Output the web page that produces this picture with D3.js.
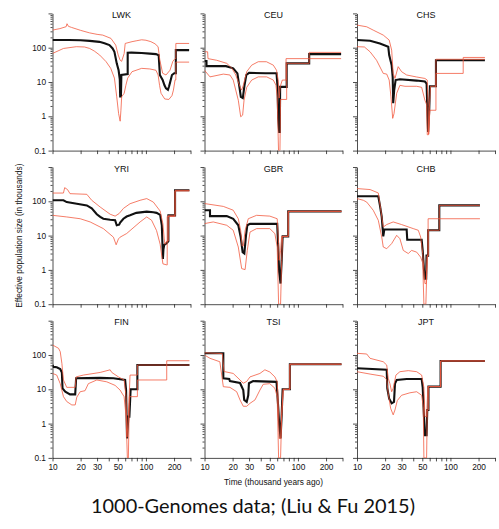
<!DOCTYPE html>
<html>
<head>
<meta charset="utf-8">
<script src="https://cdn.jsdelivr.net/npm/d3@7"></script>
<style>
  body { margin: 0; background: #fff; }
  svg { display: block; }
  .tick text, .lbl { font-family: "Liberation Sans", Arial, Helvetica, sans-serif; fill: #111; }
</style>
</head>
<body>
<svg id="chart" width="499" height="529"></svg>
<script>
// Stairway-plot estimates of effective population size (thousands) against time (thousand years ago).
// Each series is a list of [time, Ne] points; lower/upper are the 95% bounds.
const populations = ["LWK", "CEU", "CHS", "YRI", "GBR", "CHB", "FIN", "TSI", "JPT"];

const lwkMedian = [[10,168],[15,168],[20,165],[25,158],[31.8,148],[36,135],[40.7,119],[44,95],[46,76],[48.7,35],[51,22],[52.5,12],[53,3.8],[54,3.8],[54.6,16],[63.8,17],[63.8,71],[70,72],[90,70],[110,67],[128,65],[137,60],[141,16],[151,11.5],[158,8],[164,6.5],[172,5.9],[177,7.5],[181,9.5],[190,16],[201,18],[209,18],[209,85],[290,85]];
const lwkUpper = [[10,326],[12,360],[14,410],[14.3,500],[14.8,420],[16,390],[20,320],[24.9,271],[30,245],[34.5,233],[42.2,187],[47.5,119],[50.5,61],[53,43],[55,40],[58.5,68],[60,133],[71,150],[80,160],[90,170],[100,165],[113,150],[125,130],[135,107],[141,43],[151,18],[164,16],[181,22],[194,40],[205,48],[209,48],[209,133],[290,133]];
const lwkLower = [[10,68],[13.1,95],[18,107],[22,105],[25,95],[28,80],[32,61],[37.5,39],[42,25],[46,13],[48.7,3.7],[51,1.2],[53,0.72],[54,1.5],[55,3.7],[58.5,4.7],[61,8],[63.8,13],[71,20],[90,25],[110,24],[128,22],[135,16],[140,8],[145,4.7],[159,3.2],[176,3.1],[190,4],[197,5.8],[205,11.5],[209,11.5],[209,38],[290,38]];

const ceuMedian = [[10,41],[10.5,41],[10.5,29],[17,29],[20.3,25],[22.5,17.8],[23.5,8],[24.5,3.7],[25.7,3.4],[26.8,8],[28,16],[30,18.5],[45,18],[59,18],[60.5,7.2],[61.5,0.9],[63,0.35],[64,0.35],[64.5,7.2],[75.8,7.2],[75.8,35],[132,35],[132,65],[290,65]];
const ceuUpper = [[10,76],[10.8,76],[10.9,48],[13.5,43],[17.3,35],[19.7,25],[21.6,16],[23,10],[24.4,6.5],[25,5.8],[26,8],[28.3,20],[32,31],[37.6,39],[46,39],[54.5,31],[59,22],[61.5,11.4],[63,3.4],[64.5,7.2],[68,11.4],[74.6,11.4],[74.6,48],[132,48],[132,73],[290,73]];
const ceuLower = [[10,22],[11.45,14.1],[15.9,17],[18.7,16],[20.3,11.4],[23,2.95],[24.4,0.97],[25.6,1.08],[26.5,2.95],[28.3,7],[32,11.4],[37.6,14.1],[46.3,14.1],[54.5,11.4],[58.2,8.1],[60,3.7],[62,0.1],[64.2,0.1],[65.2,3.1],[75.8,3.1],[75.8,35],[132,35],[132,48],[290,48]];

const chsMedian = [[10,167],[13.8,160],[17.6,133],[21.6,107],[22.1,61],[23.5,31],[24.1,14],[24.4,2.4],[25,5.8],[25.9,11.4],[28.8,12],[43.5,11],[53.3,10.3],[55.6,9],[56.5,1.9],[57.7,0.35],[59.3,1.5],[60.3,7.5],[70,7.5],[70,43],[234,43]];
const chsUpper = [[10,456],[12.7,407],[14.9,326],[19.1,233],[22.1,167],[23.5,85],[24.4,17.8],[25.5,12.7],[27.6,28],[30,20],[34,16],[43.5,14],[53.3,12.7],[56.5,11.4],[57.7,1.9],[58.6,0.3],[59.3,1.5],[61.2,7.5],[70,7.5],[70,46],[234,46]];
const chsLower = [[10,107],[12,105],[13.8,76],[16.2,43],[19.1,17.8],[20.8,17],[22.1,11.4],[23.1,3.7],[24.1,0.87],[24.9,1.2],[26.6,4.7],[28.8,8],[32.6,7.5],[43.5,7.5],[49.2,7],[53.3,2.95],[55.6,2.2],[56.5,0.29],[58.2,0.29],[60.3,1.5],[70,1.5],[70,17.8],[137,17.8],[137,52],[234,52]];

const yriMedian = [[10,107],[13.1,107],[14.2,95],[18.2,85],[23.3,76],[26.3,62],[29.8,42],[32.4,35],[35,31],[41.4,29],[46.8,28],[48.7,20],[51.7,20.8],[53,24],[57.4,31],[62.2,36],[67.6,39],[79,46],[102,50],[120,48],[130,46],[142,40],[148,20],[152,2.1],[154,4],[157,5.4],[167,6],[174,6.9],[174,39],[205,39],[205,209],[292,209]];
const yriUpper = [[10,174],[13.1,174],[13.5,250],[14.5,219],[15.4,167],[23.3,160],[26.3,107],[32.4,68],[41.4,42],[46.8,37],[51.7,44],[57.4,62],[67.6,85],[86.6,107],[102,120],[120,95],[142,52],[152,22],[157,8],[160,5.6],[167,6.9],[174,6.9],[174,39],[205,39],[205,209],[292,209]];
const yriLower = [[10,39],[14.2,35],[19.8,31],[25.3,25],[35,16],[44.9,9],[48,5.4],[50.8,8],[52.9,9],[62.2,11.5],[86.6,25],[102,35],[115,28],[130,14],[142,5.6],[152,1.5],[167,1.4],[169,1.4],[169,36],[205,36],[205,200],[292,200]];

const gbrMedian = [[10,55],[11.45,55],[11.45,37],[17.3,37],[20.3,31],[23,20],[24.4,9.1],[25.6,3.3],[26.7,3.0],[27.8,10],[28.7,20],[30.7,22],[60,22],[61.5,4.6],[63,0.87],[65.2,0.4],[67,1.9],[68.6,9.5],[78.7,9.5],[78.7,51],[293,51]];
const gbrUpper = [[10,86],[15.9,71],[20.3,55],[23,31],[24.4,14],[25.3,5],[26,5],[27.2,14],[29.4,31],[36.1,39],[50,37],[60,31],[62.1,5.8],[63,1.9],[65.2,3.7],[67,9.5],[78.7,9.5],[78.7,51],[293,51]];
const gbrLower = [[10,22.4],[12.4,25],[17.3,20],[20.3,14.3],[23,4.65],[25,1.09],[27.2,1.02],[28.7,3.7],[30.7,12.7],[36.1,16],[50,16],[56.7,11.4],[60,4.65],[62.1,0.1],[65.2,0.1],[67,1.9],[68.6,9.5],[78.7,9.5],[78.7,51],[293,51]];

const chbMedian = [[10,140],[16.9,140],[17.6,76],[18.4,35],[19.1,9.5],[19.6,15],[34,15],[34.5,7.6],[49.2,7.6],[50.5,3.7],[52,1.1],[53,0.55],[55,0.55],[55.5,2.6],[57.7,2.6],[57.7,14.3],[76,14.3],[76,76],[207,76]];
const chbUpper = [[10,235],[13.8,220],[16.9,175],[17.9,61],[19.1,17.8],[20.8,21],[24.4,25],[30,21],[40,16],[45.3,14.3],[48,9.1],[50.5,3.0],[52,0.97],[53.3,0.4],[55,0.4],[56.5,2.6],[57.7,2.6],[57.7,31],[207,31]];
const chbLower = [[10,120],[11.7,107],[12.7,95],[14.9,55],[16.9,28],[18.4,9.1],[19.1,4.65],[20.8,4.15],[23.5,5.85],[26.6,10.2],[28.8,8.1],[31.3,3.7],[35.4,3.0],[38.4,3.7],[43.5,3.3],[48,2.35],[50.5,1.6],[52,0.1],[54.6,0.1],[56.5,2.6],[57.7,2.6],[57.7,14.3],[76,14.3],[76,76],[207,76]];

const finMedian = [[10,51],[10.25,45],[11.1,44],[12.1,39],[12.6,31],[12.8,10.7],[13.7,8.5],[15.4,7.1],[17.5,7.1],[17.9,21],[32.4,21.6],[44.9,21],[59.9,18.7],[61.3,9.5],[62.8,0.37],[64.9,1.6],[66.5,1.6],[68.6,10],[81,10],[81,51],[292,51]];
const finUpper = [[10,196],[11.6,157],[12.1,125],[12.6,57],[13.1,18.7],[14.2,11.4],[17.5,11.4],[17.9,23],[21.4,26],[32.4,31],[41.4,37],[43.1,31],[50.8,23],[58.4,18.7],[61.3,6.1],[62.8,0.41],[64.9,1.6],[67.6,26],[81,26],[81,51],[292,51]];
const finLower = [[10,29],[11.1,26],[12.1,14.6],[13.1,6.1],[14.2,4.4],[16.1,3.5],[17.5,3.5],[18.2,5.9],[19.8,8.5],[22.3,9.1],[24.2,14.6],[29.8,18.7],[38.1,16.5],[46.8,13],[52.9,9.5],[58.4,6.1],[61.3,1.6],[63.3,0.1],[64.9,0.1],[66.5,6.1],[81,6.1],[81,18.7],[167,18.7],[167,68],[292,68]];

const tsiMedian = [[10,112],[15.9,112],[15.9,21],[18.4,20],[18.7,17.3],[24,15.3],[26,9.5],[26.6,4.9],[28.3,4.3],[29.4,6.7],[29.9,15],[33.2,17.3],[59,16.5],[61.5,3.1],[63,1.02],[65.2,0.37],[67,1.8],[68.6,10],[82,10],[82,54],[293,54]];
const tsiUpper = [[10,116],[15.5,110],[16.2,33],[20.3,29],[24,18.7],[26,15],[28.3,17],[30.7,23],[39.2,29],[44.3,37],[50,32],[56.7,23],[60,16.5],[61.5,4.9],[63,0.37],[65.2,0.37],[67,1.8],[69.6,10],[82,10],[82,54],[293,54]];
const tsiLower = [[10,100],[11.45,80],[14.6,63.5],[15.9,11.9],[18.7,11.4],[22.1,8.5],[24,4.9],[26,3.2],[28.3,3.2],[30.7,3.9],[34.7,4.9],[39.2,9.5],[42.5,14],[50,14.6],[56.7,10.7],[60,6.1],[62.1,0.1],[65.2,0.1],[67,1.8],[69.6,10],[82,10],[82,54],[293,54]];

const jptMedian = [[10,41],[20.8,37],[21.1,10.7],[22.1,5.3],[23.5,3.9],[24.9,4.3],[25.5,14.6],[26.6,18.7],[34,20],[49.2,20],[50.5,11.4],[52,1.8],[53.3,0.46],[55.6,0.46],[56.5,2.5],[58.2,2.5],[58.2,12],[78.5,12],[78.5,67],[234,67]];
const jptUpper = [[10,112],[12.7,107],[13.8,80],[19.1,63.5],[20.8,51],[21.6,21],[22.5,14.6],[23.5,8.5],[24.4,10.7],[26.1,26],[28.8,32.6],[35.4,35],[43.5,32.6],[49.2,26],[52,11.4],[53.3,1.6],[55.6,1.6],[57.4,12],[78.5,12],[78.5,67],[234,67]];
const jptLower = [[10,32.6],[13.8,27.8],[19.1,24],[20.8,19.5],[21.6,7.6],[22.9,2.8],[24.4,1.8],[25.5,2.5],[27,4.7],[30,6.7],[36.8,7.9],[43.5,8.5],[49.2,6.7],[51.2,3.1],[52,0.1],[55.6,0.1],[56.5,2.5],[58.2,2.5],[58.2,12],[78.5,12],[78.5,67],[234,67]];

// Axis ticks
const xTicks = [10, 20, 30, 40, 50, 60, 70, 80, 90, 100, 200, 300];
const xTickLabels = [10, 20, 30, 50, 100, 200];
const yMajorTicks = [0.1, 1, 10, 100, 1000];
const yTickLabels = ["0.1", "1", "10", "100"];
const yMinorTicks = [];
[0.1, 1, 10, 100].forEach(base => { for (let k = 2; k <= 9; k++) yMinorTicks.push(+(base * k).toPrecision(3)); });

const series = {
  LWK: { median: lwkMedian, lower: lwkLower, upper: lwkUpper },
  CEU: { median: ceuMedian, lower: ceuLower, upper: ceuUpper },
  CHS: { median: chsMedian, lower: chsLower, upper: chsUpper },
  YRI: { median: yriMedian, lower: yriLower, upper: yriUpper },
  GBR: { median: gbrMedian, lower: gbrLower, upper: gbrUpper },
  CHB: { median: chbMedian, lower: chbLower, upper: chbUpper },
  FIN: { median: finMedian, lower: finLower, upper: finUpper },
  TSI: { median: tsiMedian, lower: tsiLower, upper: tsiUpper },
  JPT: { median: jptMedian, lower: jptLower, upper: jptUpper }
};

// Layout of the 3 x 3 grid
const colLeft = [52.5, 204.5, 357];
const rowTop = [13.4, 167, 320.7];
const panelW = 138, panelH = 137.2;

const x = d3.scaleLog().domain([10, 300]).range([0, panelW]);
const y = d3.scaleLog().domain([0.1, 1000]).range([panelH, 0]);
const line = d3.line().x(d => x(d[0])).y(d => y(d[1]));

const svg = d3.select("#chart");

populations.forEach((pop, i) => {
  const col = i % 3, row = Math.floor(i / 3);
  const g = svg.append("g").attr("transform", `translate(${colLeft[col]},${rowTop[row]})`);

  g.append("clipPath").attr("id", "clip" + i)
    .append("rect").attr("x", 0).attr("y", -3).attr("width", panelW + 2).attr("height", panelH + 3);

  // bottom axis
  const xAxis = d3.axisBottom(x).tickValues(xTicks).tickSize(3.5).tickSizeOuter(0).tickPadding(2.5)
    .tickFormat(d => (row === 2 && xTickLabels.includes(d)) ? String(d) : "");
  const gx = g.append("g").attr("transform", `translate(0,${panelH})`).call(xAxis);

  // left axis: major and minor ticks
  const yAxis = d3.axisLeft(y).tickValues(yMajorTicks).tickSize(4).tickSizeOuter(0).tickPadding(2.5)
    .tickFormat(d => (col === 0 && yTickLabels.includes(String(d))) ? String(d) : "");
  const gy = g.append("g").call(yAxis);
  const gyMinor = g.append("g").call(d3.axisLeft(y).tickValues(yMinorTicks).tickSize(2).tickSizeOuter(0).tickFormat(""));
  gyMinor.select(".domain").remove();

  [gx, gy, gyMinor].forEach(a => {
    a.selectAll(".domain").attr("stroke", "#222").attr("stroke-width", 0.8);
    a.selectAll(".tick line").attr("stroke", "#222").attr("stroke-width", 0.8);
    a.selectAll(".tick text").attr("font-size", 8.3).attr("fill", "#111");
  });

  const plot = g.append("g").attr("clip-path", `url(#clip${i})`);
  plot.append("path").datum(series[pop].median)
    .attr("d", line).attr("fill", "none").attr("stroke", "#111")
    .attr("stroke-width", 2.1).attr("stroke-linejoin", "miter");
  ["upper", "lower"].forEach(k => {
    plot.append("path").datum(series[pop][k])
      .attr("d", line).attr("fill", "none").attr("stroke", "#f2583e")
      .attr("stroke-opacity", 0.78).attr("stroke-width", 1);
  });

  g.append("text").attr("class", "lbl")
    .attr("x", panelW / 2).attr("y", 4.5)
    .attr("text-anchor", "middle").attr("font-size", 9)
    .text(pop);
});

// Shared axis titles
svg.append("text").attr("class", "lbl")
  .attr("transform", `translate(22,${(rowTop[1] + panelH / 2)}) rotate(-90)`)
  .attr("text-anchor", "middle").attr("font-size", 8.3)
  .text("Effective population size (in thousands)");

svg.append("text").attr("class", "lbl")
  .attr("x", colLeft[1] + panelW / 2).attr("y", 484.5)
  .attr("text-anchor", "middle").attr("font-size", 8.3)
  .text("Time (thousand years ago)");

svg.append("text")
  .attr("x", 253).attr("y", 513)
  .attr("text-anchor", "middle")
  .attr("font-family", "Lato, 'DejaVu Sans', sans-serif")
  .attr("font-size", 18.5).attr("fill", "#111")
  .attr("textLength", 324).attr("lengthAdjust", "spacingAndGlyphs")
  .text("1000-Genomes data; (Liu & Fu 2015)");
</script>
</body>
</html>
